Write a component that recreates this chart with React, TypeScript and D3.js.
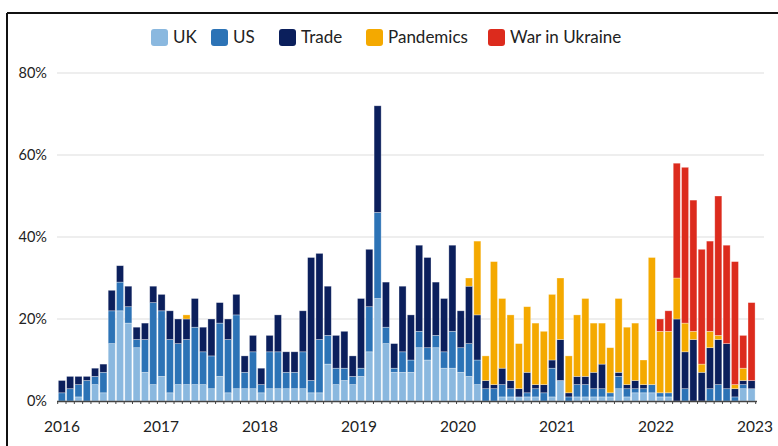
import React, { useEffect, useRef } from "react";
import * as d3 from "d3";

// Monthly data Jan 2016 – Dec 2022 (share, %)
const uk = [
  0, 0, 1, 0, 4, 2, 14, 22, 19, 13, 7, 4,
  6, 2, 4, 4, 4, 4, 3, 6, 2, 3, 3, 3,
  2, 3, 3, 3, 3, 3, 2, 2, 9, 4, 5, 4,
  6, 12, 25, 14, 7, 7, 7, 13, 10, 13, 8, 8,
  7, 6, 4, 0, 0, 1, 1, 1, 1, 1, 0, 1,
  5, 0, 1, 1, 1, 1, 1, 3, 1, 2, 2, 2,
  1, 1, 0, 0, 0, 0, 0, 0, 0, 0, 3, 3,
];
const us = [
  2, 3, 3, 5, 2, 5, 8, 7, 4, 2, 8, 20,
  16, 13, 10, 11, 14, 8, 8, 13, 13, 18, 4, 9,
  2, 9, 9, 4, 4, 9, 3, 13, 7, 4, 3, 2,
  2, 11, 21, 4, 1, 5, 3, 4, 3, 3, 4, 9,
  6, 8, 6, 3, 3, 3, 2, 0, 1, 2, 2, 7,
  0, 1, 3, 3, 2, 2, 1, 3, 2, 1, 1, 2,
  1, 1, 0, 3, 0, 0, 3, 4, 3, 1, 1, 0,
];
const trade = [
  3, 3, 2, 1, 2, 2, 5, 4, 5, 3, 4, 4,
  4, 7, 6, 5, 7, 6, 9, 5, 5, 5, 4, 4,
  4, 4, 9, 5, 5, 10, 30, 21, 12, 8, 9, 5,
  17, 14, 26, 11, 6, 16, 11, 21, 22, 13, 13, 21,
  9, 14, 11, 2, 1, 4, 2, 2, 5, 1, 2, 2,
  10, 1, 2, 2, 4, 6, 0, 1, 1, 2, 1, 0,
  0, 0, 20, 9, 15, 7, 10, 11, 11, 2, 1, 2,
];
const pandemics = [
  0, 0, 0, 0, 0, 0, 0, 0, 0, 0, 0, 0,
  0, 0, 0, 1, 0, 0, 0, 0, 0, 0, 0, 0,
  0, 0, 0, 0, 0, 0, 0, 0, 0, 0, 0, 0,
  0, 0, 0, 0, 0, 0, 0, 0, 0, 0, 0, 0,
  0, 2, 18, 6, 30, 17, 16, 11, 16, 15, 13, 16,
  15, 9, 15, 19, 12, 10, 11, 18, 14, 14, 6, 31,
  15, 15, 10, 7, 2, 2, 4, 1, 0, 1, 3, 0,
];
const war = [
  0, 0, 0, 0, 0, 0, 0, 0, 0, 0, 0, 0,
  0, 0, 0, 0, 0, 0, 0, 0, 0, 0, 0, 0,
  0, 0, 0, 0, 0, 0, 0, 0, 0, 0, 0, 0,
  0, 0, 0, 0, 0, 0, 0, 0, 0, 0, 0, 0,
  0, 0, 0, 0, 0, 0, 0, 0, 0, 0, 0, 0,
  0, 0, 0, 0, 0, 0, 0, 0, 0, 0, 0, 0,
  3, 5, 28, 38, 32, 28, 22, 34, 24, 30, 8, 19,
];

const seriesKeys = ["UK", "US", "Trade", "Pandemics", "War in Ukraine"];
const seriesColors = ["#8ab8df", "#2c73b6", "#0b1f5c", "#f4a900", "#dc2b1d"];
const yTicks = [0, 20, 40, 60, 80];
const yearLabels = ["2016", "2017", "2018", "2019", "2020", "2021", "2022", "2023"];

const W = 778;
const H = 446;
const FONT = "Lato, 'Open Sans', sans-serif";

export default function App() {
  const ref = useRef<SVGSVGElement | null>(null);

  useEffect(() => {
    const svg = d3.select(ref.current);
    svg.selectAll("*").remove();

    const n = uk.length;
    const rows = d3.range(n).map((i) => ({
      i,
      UK: uk[i],
      US: us[i],
      Trade: trade[i],
      Pandemics: pandemics[i],
      "War in Ukraine": war[i],
    }));

    const x = d3
      .scaleBand<number>()
      .domain(d3.range(n))
      .range([57.7, 755.7])
      .paddingInner(0.15)
      .paddingOuter(0.075);
    const y = d3.scaleLinear().domain([0, 80]).range([401, 73]);
    const yearX = d3.scaleLinear().domain([0, 7]).range([62, 755]);

    // frame
    svg.append("line").attr("x1", 7).attr("x2", W).attr("y1", 13).attr("y2", 13)
      .attr("stroke", "#111").attr("stroke-width", 2);
    svg.append("line").attr("x1", 7).attr("x2", 7).attr("y1", 13).attr("y2", H)
      .attr("stroke", "#111").attr("stroke-width", 2);

    // gridlines
    svg.append("g").selectAll("line")
      .data(yTicks.filter((t) => t > 0))
      .join("line")
      .attr("x1", 57).attr("x2", 764)
      .attr("y1", (d) => y(d)).attr("y2", (d) => y(d))
      .attr("stroke", "#e9e9e9").attr("stroke-width", 1.5);

    // y labels
    svg.append("g").selectAll("text")
      .data(yTicks)
      .join("text")
      .attr("x", 47).attr("y", (d) => y(d))
      .attr("dy", "0.35em")
      .attr("text-anchor", "end")
      .attr("font-family", FONT).attr("font-size", 14.5)
      .attr("fill", "#222")
      .text((d) => `${d}%`);

    // stacked bars
    const stack = d3.stack<any>().keys(seriesKeys);
    const stacked = stack(rows);
    const g = svg.append("g");
    stacked.forEach((layer, k) => {
      g.append("g")
        .attr("fill", seriesColors[k])
        .selectAll("rect")
        .data(layer.filter((d) => d[1] - d[0] > 0))
        .join("rect")
        .attr("x", (d: any) => x(d.data.i)!)
        .attr("width", x.bandwidth())
        .attr("y", (d) => y(d[1]))
        .attr("height", (d) => y(d[0]) - y(d[1]))
        .attr("stroke", "#ffffff")
        .attr("stroke-opacity", 0.45)
        .attr("stroke-width", 0.7);
    });

    // axis baseline + ticks
    svg.append("line").attr("x1", 57).attr("x2", 757).attr("y1", 401.5).attr("y2", 401.5)
      .attr("stroke", "#444").attr("stroke-width", 1.5);
    svg.append("g").selectAll("line")
      .data(d3.range(n + 1))
      .join("line")
      .attr("x1", (d) => 57.7 + d * x.step())
      .attr("x2", (d) => 57.7 + d * x.step())
      .attr("y1", 401.5).attr("y2", 404)
      .attr("stroke", "#444").attr("stroke-width", 1);

    // year labels
    svg.append("g").selectAll("text")
      .data(yearLabels)
      .join("text")
      .attr("x", (_d, i) => yearX(i))
      .attr("y", 432)
      .attr("text-anchor", "middle")
      .attr("font-family", FONT).attr("font-size", 15.5)
      .attr("fill", "#222")
      .text((d) => d);

    // legend
    const legendX = [151, 211, 279, 366, 488];
    const lg = svg.append("g");
    seriesKeys.forEach((key, k) => {
      lg.append("rect")
        .attr("x", legendX[k]).attr("y", 29)
        .attr("width", 17).attr("height", 17)
        .attr("rx", 3)
        .attr("fill", seriesColors[k]);
      lg.append("text")
        .attr("x", legendX[k] + 22).attr("y", 37.5)
        .attr("dy", "0.35em")
        .attr("font-family", FONT).attr("font-size", 17)
        .attr("fill", "#222")
        .text(key);
    });
  }, []);

  return (
    <svg
      ref={ref}
      width={W}
      height={H}
      style={{ position: "fixed", top: 0, left: 0, background: "#fff" }}
    />
  );
}
